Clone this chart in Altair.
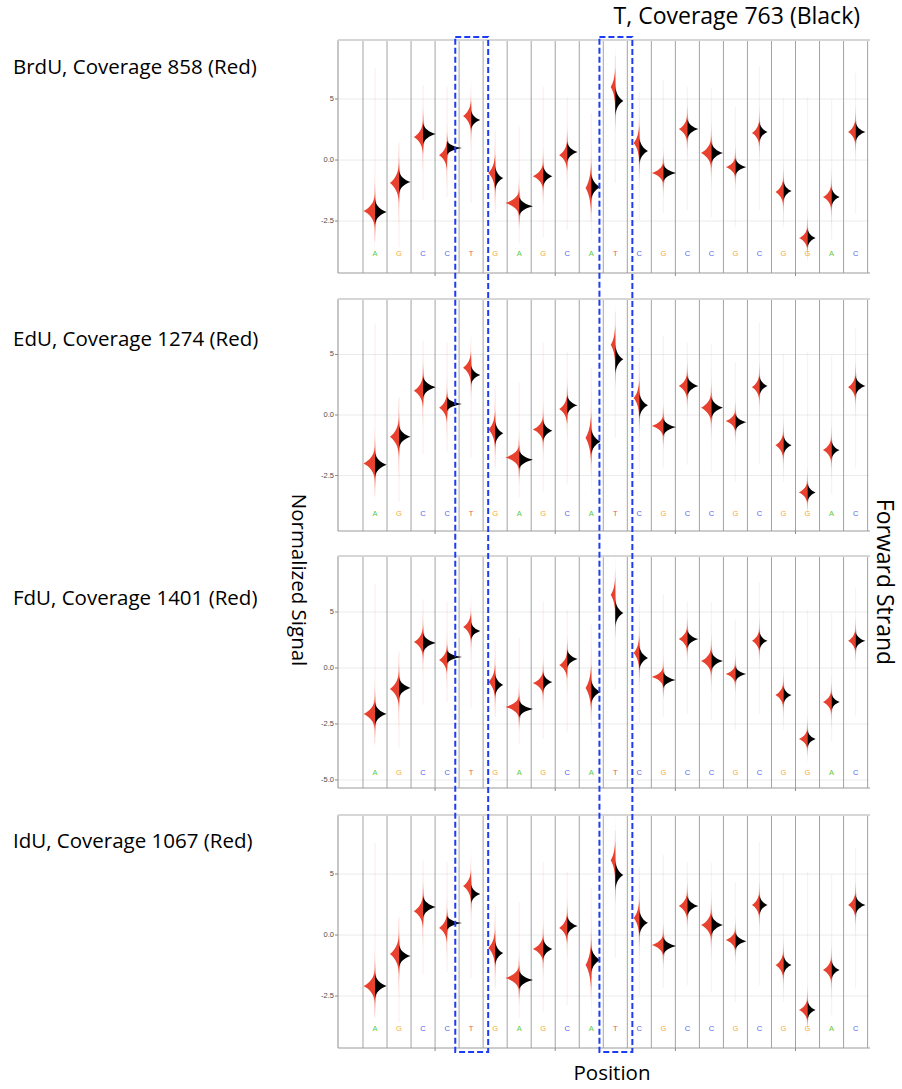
import altair as alt
import pandas as pd

# Reference sequence (forward strand), one base per position
BASES = list("AGCCTGAGCATCGCCGCGGAC")
POSITIONS = list(range(1, 22))

# Peak of the normalized signal for each position: modified sample (red) and thymidine control (black)
BRDU_RED = [-2.09, -0.94, 0.94, 0.20, 1.80, -0.53, -1.76, -0.66, 0.20, -1.15, 2.99,
            0.70, -0.53, 1.27, 0.29, -0.29, 1.11, -1.31, -3.20, -1.52, 1.15]
BRDU_BLACK = [-2.13, -0.90, 1.07, 0.49, 1.64, -0.74, -1.89, -0.66, 0.33, -1.11, 2.42,
              0.37, -0.53, 1.27, 0.29, -0.29, 1.15, -1.27, -3.20, -1.52, 1.15]
EDU_RED = [-2.00, -0.90, 1.00, 0.30, 1.95, -0.60, -1.75, -0.60, 0.25, -0.95, 2.90,
           0.70, -0.45, 1.20, 0.30, -0.25, 1.15, -1.25, -3.20, -1.45, 1.15]
EDU_BLACK = [-2.05, -0.90, 1.15, 0.45, 1.65, -0.75, -1.85, -0.65, 0.40, -1.10, 2.30,
             0.40, -0.50, 1.20, 0.30, -0.30, 1.20, -1.25, -3.20, -1.45, 1.20]
FDU_RED = [-2.05, -0.94, 1.16, 0.36, 1.83, -0.63, -1.74, -0.67, 0.13, -0.89, 3.26,
           0.67, -0.40, 1.29, 0.31, -0.27, 1.21, -1.21, -3.17, -1.52, 1.21]
FDU_BLACK = [-2.05, -0.89, 1.12, 0.49, 1.65, -0.76, -1.83, -0.63, 0.40, -1.07, 2.46,
             0.45, -0.54, 1.29, 0.31, -0.27, 1.21, -1.21, -3.17, -1.52, 1.21]
IDU_RED = [-2.09, -0.78, 0.98, 0.29, 2.01, -0.53, -1.76, -0.57, 0.29, -1.23, 3.07,
           0.70, -0.41, 1.19, 0.41, -0.20, 1.23, -1.23, -3.07, -1.43, 1.23]
IDU_BLACK = [-2.09, -0.86, 1.15, 0.49, 1.68, -0.74, -1.84, -0.57, 0.37, -1.02, 2.46,
             0.50, -0.45, 1.19, 0.41, -0.25, 1.23, -1.23, -3.07, -1.43, 1.23]

# Half height of the dense body of each violin half (signal units)
RED_SPREAD = [0.68, 0.78, 0.66, 0.61, 0.66, 0.76, 0.50, 0.55, 0.61, 1.07, 0.82,
              0.76, 0.45, 0.58, 0.63, 0.45, 0.55, 0.58, 0.48, 0.55, 0.55]
BLACK_SPREAD = [0.51, 0.47, 0.45, 0.30, 0.40, 0.51, 0.40, 0.44, 0.42, 0.55, 0.61,
                0.55, 0.38, 0.42, 0.45, 0.36, 0.42, 0.42, 0.40, 0.40, 0.42]
# Peak density of each half
RED_DENSITY = [1.0, 0.8, 0.8, 0.7, 0.7, 0.6, 1.2, 0.9, 0.7, 0.5, 0.4,
               0.5, 1.0, 0.75, 0.9, 0.85, 0.65, 0.7, 0.75, 0.75, 0.65]
BLACK_DENSITY = [1.0, 1.0, 1.1, 1.3, 0.8, 0.7, 1.2, 0.8, 0.9, 0.8, 0.7,
                 0.75, 1.1, 0.95, 1.0, 0.95, 0.7, 0.7, 0.7, 0.7, 0.85]
# Range of the sparse outlying signal at each position
TAIL_HI = [3.77, 0.70, 3.07, 2.99, 2.38, 1.23, 1.35, 2.99, 2.58, 1.93, 4.26,
           2.79, 3.28, 2.99, 2.95, 2.17, 3.81, 2.54, 2.58, 2.46, 3.57]
TAIL_LO = [-3.36, -3.57, -1.64, -1.52, -1.76, -2.17, -3.40, -3.16, -2.87, -2.46, -0.94,
           -2.46, -2.17, -2.05, -2.34, -2.75, -2.05, -2.75, -3.57, -3.28, -2.17]

PANEL_TITLES = ["BrdU, Coverage 858 (Red)", "EdU, Coverage 1274 (Red)",
                "FdU, Coverage 1401 (Red)", "IdU, Coverage 1067 (Red)"]
HIGHLIGHT = [5, 11]

# y-axis ticks and their printed labels
TICKS = [2.5, 0.0, -2.5, -5.0]
TICK_LABELS = ["5", "0.0", "-2.5", "-5.0"]

BASE_COLORS = {"A": "#5cc83a", "G": "#f4a93a", "C": "#5a63e6", "T": "#e55a50"}
RED = "#e8412e"
BLACK = "#000000"
BOX_BLUE = "#1e3cf5"
AXIS_GREY = "#8c8c8c"
FONT = "Open Sans"
TITLE_SIZE = 20.5
SIDE_SIZE = 23
DENSITY_PX = 11.5  # pixels per unit of peak density

# plot-area geometry (pixels)
LEFT, RIGHT = 338, 869
X_DOMAIN = [-0.54, 21.6]
x_scale = alt.Scale(domain=X_DOMAIN, range=[LEFT, RIGHT + 1], nice=False, zero=False)

# top, bottom, y domain and number of ticks shown for each panel
LAYOUT = [
    dict(top=40, bottom=273, lo=-4.63, hi=4.92, nticks=3),
    dict(top=299, bottom=531, lo=-4.79, hi=4.79, nticks=3),
    dict(top=556, bottom=788, lo=-5.36, hi=5.0, nticks=4),
    dict(top=815, bottom=1048, lo=-4.63, hi=4.92, nticks=3),
]
LETTER_GAP = [19, 17, 15, 19]


def half_violin_path(hh, w):
    """Vega expression for a half-violin outline in pixels: flat edge on the centre line,
    concave flanks and a cusp at the peak density."""
    return (
        f"'M0,' + (-{hh}) + 'C' + (0.06*{w}) + ',' + (-0.5*{hh}) + ' '"
        f" + (0.5*{w}) + ',' + (-0.17*{hh}) + ' ' + {w} + ',0'"
        f" + 'C' + (0.5*{w}) + ',' + (0.17*{hh}) + ' ' + (0.06*{w}) + ','"
        f" + (0.5*{hh}) + ' 0,' + {hh} + 'Z'"
    )


def panel(red, black, geo, letter_gap):
    top, bottom, lo, hi = geo["top"], geo["bottom"], geo["lo"], geo["hi"]
    pxu = (bottom - top) / (hi - lo)
    ys = alt.Scale(domain=[lo, hi], range=[bottom, top], nice=False, zero=False)

    tdf = pd.DataFrame({"v": TICKS[:geo["nticks"]], "lab": TICK_LABELS[:geo["nticks"]]})
    grid = alt.Chart(tdf).mark_rule(color="#ebebeb", strokeWidth=1).encode(
        y=alt.Y("v:Q", scale=ys, axis=None),
        x=alt.value(LEFT), x2=alt.value(RIGHT),
    )
    tick_marks = alt.Chart(tdf).mark_rule(color=AXIS_GREY, strokeWidth=1).encode(
        y=alt.Y("v:Q", scale=ys, axis=None),
        x=alt.value(LEFT - 3), x2=alt.value(LEFT),
    )
    tick_text = alt.Chart(tdf).mark_text(
        align="right", baseline="middle", fontSize=7.5, font="Liberation Sans", color="#4d4d4d"
    ).encode(
        y=alt.Y("v:Q", scale=ys, axis=None),
        x=alt.value(LEFT - 4),
        text="lab:N",
    )

    cols = alt.Chart(pd.DataFrame({"b": [k + 0.5 for k in range(22)]})).mark_rule(
        color="#a3a3a3", strokeWidth=1
    ).encode(
        x=alt.X("b:Q", scale=x_scale, axis=None),
        y=alt.value(top), y2=alt.value(bottom),
    )

    left_line = alt.Chart(pd.DataFrame({"k": [0]})).mark_rule(color=AXIS_GREY, strokeWidth=1).encode(
        x=alt.value(LEFT), y=alt.value(top), y2=alt.value(bottom)
    )
    top_line = alt.Chart(pd.DataFrame({"k": [0]})).mark_rule(color="#d6d6d6", strokeWidth=2).encode(
        x=alt.value(LEFT), x2=alt.value(RIGHT + 1), y=alt.value(top)
    )
    bottom_line = alt.Chart(pd.DataFrame({"k": [0]})).mark_rule(color="#9a9a9a", strokeWidth=1).encode(
        x=alt.value(LEFT), x2=alt.value(RIGHT + 1), y=alt.value(bottom)
    )
    xticks = alt.Chart(pd.DataFrame({"b": [3.5, 8.5, 13.5, 18.5]})).mark_rule(
        color=AXIS_GREY, strokeWidth=1
    ).encode(
        x=alt.X("b:Q", scale=x_scale, axis=None),
        y=alt.value(bottom), y2=alt.value(bottom + 3),
    )

    tails_df = pd.DataFrame({"pos": POSITIONS, "lo": TAIL_LO, "hi": TAIL_HI})
    tails = alt.Chart(tails_df).mark_rule(color=RED, opacity=0.08, strokeWidth=1.3).encode(
        x=alt.X("pos:Q", scale=x_scale, axis=None),
        y=alt.Y("lo:Q", scale=ys, axis=None),
        y2="hi:Q",
    )

    rows = []
    for i, p in enumerate(POSITIONS):
        rows.append(dict(pos=p, c=red[i], h=RED_SPREAD[i], d=RED_DENSITY[i], side=-1, col=RED))
        rows.append(dict(pos=p, c=black[i], h=BLACK_SPREAD[i], d=BLACK_DENSITY[i], side=1, col=BLACK))
    vdf = pd.DataFrame(rows)

    base = alt.Chart(vdf).transform_calculate(
        hh=f"datum.h * {pxu:.4f}",
        w=f"datum.d * {DENSITY_PX} * datum.side",
    ).transform_calculate(
        hh2="datum.hh * 2.3",
        w2="datum.w * 0.28",
    )
    enc = dict(
        x=alt.X("pos:Q", scale=x_scale, axis=None),
        y=alt.Y("c:Q", scale=ys, axis=None),
        shape=alt.Shape("path:N", scale=None),
        color=alt.Color("col:N", scale=None),
        size=alt.value(4),
    )
    # faint, narrow outer part of each density
    halo = base.transform_calculate(path=half_violin_path("datum.hh2", "datum.w2")).mark_point(
        filled=True, opacity=0.35, strokeWidth=0
    ).encode(**enc)
    # dense body of each density
    body = base.transform_calculate(path=half_violin_path("datum.hh", "datum.w")).mark_point(
        filled=True, opacity=1, strokeWidth=0
    ).encode(**enc)

    ldf = pd.DataFrame({"pos": POSITIONS, "base": BASES,
                        "col": [BASE_COLORS[b] for b in BASES]})
    letters = alt.Chart(ldf).mark_text(fontSize=7.5, font="Liberation Sans", baseline="middle").encode(
        x=alt.X("pos:Q", scale=x_scale, axis=None),
        y=alt.value(bottom - letter_gap),
        text="base:N",
        color=alt.Color("col:N", scale=None),
    )

    return alt.layer(grid, cols, left_line, top_line, bottom_line, xticks, tick_marks, tick_text,
                     tails, halo, body, letters)


def label(text, x, y, size=TITLE_SIZE, angle=0, align="left"):
    return alt.Chart(pd.DataFrame({"t": [text]})).mark_text(
        font=FONT, fontSize=size, angle=angle, align=align, baseline="middle", color="#000000"
    ).encode(x=alt.value(x), y=alt.value(y), text="t:N")


series = [(BRDU_RED, BRDU_BLACK), (EDU_RED, EDU_BLACK), (FDU_RED, FDU_BLACK), (IDU_RED, IDU_BLACK)]
panels = [panel(r, b, geo, g) for (r, b), geo, g in zip(series, LAYOUT, LETTER_GAP)]

boxes = alt.Chart(pd.DataFrame({"pos": HIGHLIGHT})).transform_calculate(
    x1="datum.pos - 0.66", x2="datum.pos + 0.71"
).mark_rect(fillOpacity=0, stroke=BOX_BLUE, strokeWidth=2, strokeDash=[6, 3]).encode(
    x=alt.X("x1:Q", scale=x_scale, axis=None),
    x2="x2:Q",
    y=alt.value(37), y2=alt.value(1052),
)

title_y = [68, 340, 599, 842]
texts = [label(t, 13, y) for t, y in zip(PANEL_TITLES, title_y)]
texts += [
    label("T, Coverage 763 (Black)", 860, 17, size=SIDE_SIZE, align="right"),
    label("Normalized Signal", 298, 580, angle=90, align="center"),
    label("Forward Strand", 884, 582, size=SIDE_SIZE, angle=90, align="center"),
    label("Position", 612, 1074, align="center"),
]

chart = alt.layer(*panels, boxes, *texts).resolve_scale(y="independent").properties(
    width=902, height=1089, padding=0,
    autosize=alt.AutoSizeParams(type="none"),
    background="white",
).configure_view(strokeWidth=0)

chart.save("out.html", embed_options={"renderer": "svg", "actions": False})
